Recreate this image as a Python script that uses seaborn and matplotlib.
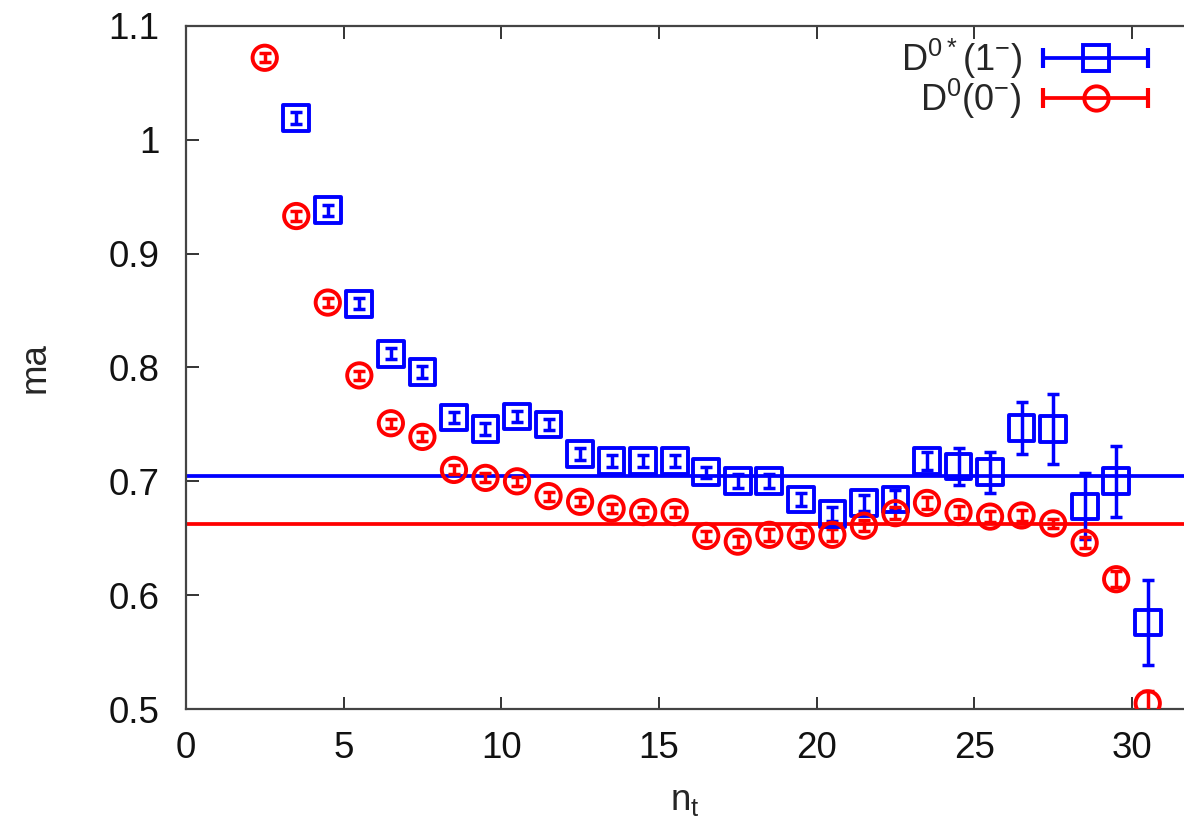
"""Effective mass plateaus for D0* and D0 (ma vs n_t)."""
import matplotlib
matplotlib.use("Agg")
import matplotlib.pyplot as plt
from matplotlib.lines import Line2D
from matplotlib.legend_handler import HandlerLine2D, HandlerTuple
import numpy as np
import pandas as pd
import seaborn as sns

# data
nt_vector = [3.5, 4.5, 5.5, 6.5, 7.5, 8.5, 9.5, 10.5, 11.5, 12.5, 13.5, 14.5,
             15.5, 16.5, 17.5, 18.5, 19.5, 20.5, 21.5, 22.5, 23.5, 24.5, 25.5,
             26.5, 27.5, 28.5, 29.5, 30.5]
ma_vector = [1.019, 0.938, 0.856, 0.812, 0.796, 0.756, 0.746, 0.757, 0.750,
             0.724, 0.718, 0.718, 0.718, 0.708, 0.700, 0.700, 0.684, 0.671,
             0.681, 0.684, 0.718, 0.713, 0.708, 0.747, 0.746, 0.678, 0.700,
             0.576]
err_vector = [0.005, 0.005, 0.005, 0.005, 0.005, 0.005, 0.005, 0.005, 0.005,
              0.005, 0.005, 0.005, 0.005, 0.005, 0.006, 0.006, 0.006, 0.006,
              0.007, 0.008, 0.008, 0.016, 0.018, 0.023, 0.031, 0.029, 0.031,
              0.037]

nt_pseudo = [2.5, 3.5, 4.5, 5.5, 6.5, 7.5, 8.5, 9.5, 10.5, 11.5, 12.5, 13.5,
             14.5, 15.5, 16.5, 17.5, 18.5, 19.5, 20.5, 21.5, 22.5, 23.5, 24.5,
             25.5, 26.5, 27.5, 28.5, 29.5, 30.5]
ma_pseudo = [1.072, 0.933, 0.857, 0.793, 0.751, 0.739, 0.710, 0.703, 0.700,
             0.687, 0.682, 0.676, 0.673, 0.673, 0.652, 0.647, 0.653, 0.652,
             0.653, 0.661, 0.672, 0.681, 0.673, 0.669, 0.670, 0.663, 0.646,
             0.614, 0.505]
err_pseudo = [0.004, 0.004, 0.004, 0.004, 0.004, 0.004, 0.004, 0.004, 0.004,
              0.004, 0.004, 0.004, 0.004, 0.004, 0.004, 0.005, 0.005, 0.005,
              0.005, 0.005, 0.005, 0.005, 0.005, 0.005, 0.005, 0.004, 0.005,
              0.007, 0.011]

fit_vector = 0.7044
fit_pseudo = 0.6623

labels = [r"D$^{0*}$(1$^{-}$)", r"D$^{0}$(0$^{-}$)"]
colors = ["#0000ff", "#ff0000"]
markers = ["s", "o"]
msizes = [18.5, 17.5]

sns.set_style("ticks")
plt.rcParams["font.family"] = ["Liberation Sans", "DejaVu Sans"]
plt.rcParams["mathtext.default"] = "regular"

df = pd.concat([
    pd.DataFrame({"nt": nt_vector, "ma": ma_vector, "err": err_vector,
                  "state": labels[0]}),
    pd.DataFrame({"nt": nt_pseudo, "ma": ma_pseudo, "err": err_pseudo,
                  "state": labels[1]}),
])
fits = {labels[0]: fit_vector, labels[1]: fit_pseudo}

fig = plt.figure(figsize=(11.84, 8.25), dpi=100)
ax = fig.add_axes([0.157, 0.1406, 0.843, 0.828])

handles = []
for lab, col, mk, ms in zip(labels, colors, markers, msizes):
    sub = df[df["state"] == lab]
    ax.axhline(fits[lab], color=col, lw=2.7, zorder=1)
    ax.errorbar(sub["nt"], sub["ma"], yerr=sub["err"], fmt="none",
                ecolor=col, elinewidth=2.5, capsize=4.5, capthick=2.5, zorder=3)
    sns.scatterplot(x=sub["nt"], y=sub["ma"], marker=mk, s=ms ** 2,
                    facecolor="none", edgecolor=col, linewidth=2.8, ax=ax,
                    zorder=4, legend=False)
    bar = Line2D([0, 1], [0, 0], color=col, lw=2.7, marker="|",
                 markersize=14, markeredgewidth=3)
    dot = Line2D([0], [0], color=col, lw=0, marker=mk, markersize=ms,
                 markerfacecolor="none", markeredgewidth=2.8)
    handles.append((bar, dot))

hmap = {}
for bar, dot in handles:
    hmap[bar] = HandlerLine2D(numpoints=2, marker_pad=0)
    hmap[dot] = HandlerLine2D(numpoints=1)
hmap[tuple] = HandlerTuple(ndivide=1, pad=0)

leg = ax.legend(handles, labels, handler_map=hmap, loc="upper right",
                bbox_to_anchor=(0.975, 1.0), frameon=False, markerfirst=False,
                fontsize=26, handlelength=2.9, handletextpad=0.6,
                labelspacing=-0.12, borderaxespad=0.1, borderpad=0.2)

ax.set_xlim(0, 31.65)
ax.set_ylim(0.5, 1.1)
ax.set_xticks([0, 5, 10, 15, 20, 25, 30])
ax.set_yticks([0.5, 0.6, 0.7, 0.8, 0.9, 1.0, 1.1])
ax.set_yticklabels(["0.5", "0.6", "0.7", "0.8", "0.9", "1", "1.1"])
ax.tick_params(direction="in", length=9, width=1.4, labelsize=26.5,
               colors="#333333", labelcolor="#111111", top=True, right=False)
ax.tick_params(axis="y", pad=19)
ax.tick_params(axis="x", pad=16)
for side in ["left", "bottom", "top"]:
    ax.spines[side].set_color("#444444")
    ax.spines[side].set_linewidth(1.6)
ax.spines["right"].set_visible(False)

ax.set_xlabel(r"n$_t$", fontsize=26.5, labelpad=12)
ax.set_ylabel("ma", fontsize=26.5, labelpad=40)

fig.savefig("out.png", dpi=100)
